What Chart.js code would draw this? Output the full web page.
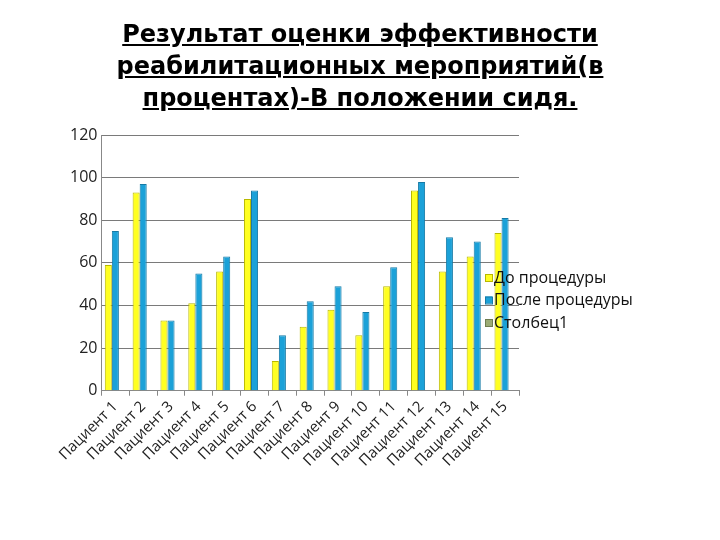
<!DOCTYPE html>
<html>
<head>
<meta charset="utf-8">
<script src="https://cdn.jsdelivr.net/npm/chart.js@4.4.0/dist/chart.umd.min.js"></script>
<style>
  html, body { margin: 0; padding: 0; background: #fff; }
  #wrap { position: relative; width: 720px; height: 540px; }
  #title {
    position: absolute; left: 0; top: 18px; width: 720px;
    text-align: center; font-family: "DejaVu Sans", sans-serif;
    font-weight: bold; font-size: 24px; line-height: 32px;
    text-decoration: underline; color: #000;
  }
  canvas { position: absolute; left: 0; top: 0; }
</style>
</head>
<body>
<div id="wrap">
  <canvas id="chart" width="720" height="540"></canvas>
  <div id="title">Результат оценки эффективности<br>реабилитационных мероприятий(в<br>процентах)-В положении сидя.</div>
</div>
<script>
const patients = ['Пациент 1', 'Пациент 2', 'Пациент 3', 'Пациент 4', 'Пациент 5',
  'Пациент 6', 'Пациент 7', 'Пациент 8', 'Пациент 9', 'Пациент 10',
  'Пациент 11', 'Пациент 12', 'Пациент 13', 'Пациент 14', 'Пациент 15']
const beforeVals = [59, 93, 33, 41, 56, 90, 14, 30, 38, 26, 49, 94, 56, 63, 74]
const afterVals = [75, 97, 33, 55, 63, 94, 26, 42, 49, 37, 58, 98, 72, 70, 81]
const column1Vals = patients.map(() => null)
const seriesNames = ['До процедуры', 'После процедуры', 'Столбец1']

const tickFont = { family: '"Open Sans", sans-serif', size: 16 }

// легенда поверх области графика, как в исходнике
const sideLegend = {
  id: 'sideLegend',
  afterDraw(chart) {
    const ctx = chart.ctx
    ctx.save()
    ctx.font = '16px "Open Sans", sans-serif'
    ctx.textBaseline = 'middle'
    chart.data.datasets.forEach((ds, i) => {
      const y = 278 + i * 22.5
      ctx.fillStyle = ds.backgroundColor
      ctx.strokeStyle = ds.borderColor
      ctx.fillRect(485, y - 4, 7, 7)
      ctx.strokeRect(485.5, y - 3.5, 7, 7)
      ctx.fillStyle = '#111'
      ctx.fillText(ds.label, 494, y)
    })
    ctx.restore()
  }
}

new Chart(document.getElementById('chart'), {
  type: 'bar',
  data: {
    labels: patients,
    datasets: [
      { label: seriesNames[0], data: beforeVals, backgroundColor: '#ffff21', borderColor: '#b8b800', borderWidth: 1 },
      { label: seriesNames[1], data: afterVals, backgroundColor: '#1ba1d8', borderColor: '#157aa6', borderWidth: 1 },
      { label: seriesNames[2], data: column1Vals, backgroundColor: '#9bab74', borderColor: '#6f7d50', borderWidth: 1 }
    ]
  },
  options: {
    responsive: false,
    animation: false,
    categoryPercentage: 0.76,
    barPercentage: 1,
    layout: { padding: { left: 66, right: 201, top: 135, bottom: 68 } },
    plugins: {
      legend: { display: false },
      title: { display: false },
      tooltip: { enabled: false }
    },
    scales: {
      x: {
        ticks: { font: { ...tickFont, size: 15 }, color: '#222', autoSkip: false, maxRotation: 45, minRotation: 45, padding: 2 },
        grid: { drawOnChartArea: false, offset: true, tickLength: 5, color: '#888' },
        border: { color: '#888' }
      },
      y: {
        min: 0,
        max: 120,
        ticks: { stepSize: 20, font: tickFont, color: '#222', padding: 4 },
        grid: { color: '#7a7a7a', tickLength: 0 },
        border: { color: '#888' }
      }
    }
  },
  plugins: [sideLegend]
})
</script>
</body>
</html>
